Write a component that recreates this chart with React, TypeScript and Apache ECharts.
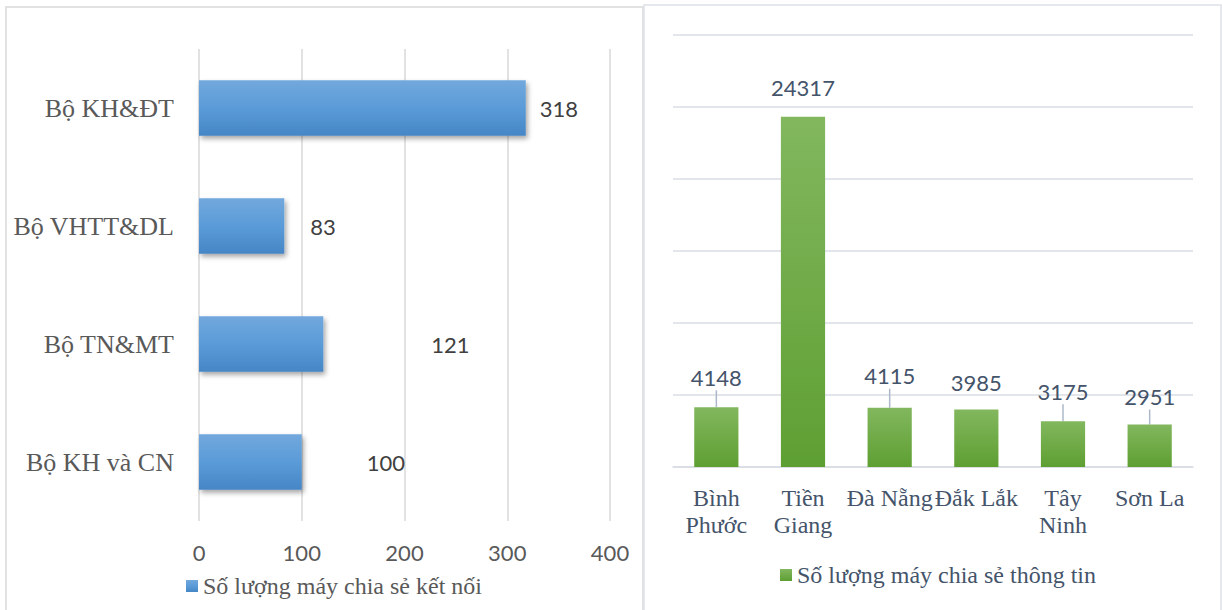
import React, { useEffect, useRef } from "react";
import * as echarts from "echarts";

const leftCategories = ["Bộ KH&ĐT", "Bộ VHTT&DL", "Bộ TN&MT", "Bộ KH và CN"];
const leftValues = [318, 83, 121, 100];
const leftSeriesName = "Số lượng máy chia sẻ kết nối";
const leftAxisMax = 400;
const leftAxisStep = 100;

const rightCategories = ["Bình\nPhước", "Tiền\nGiang", "Đà Nẵng", "Đắk Lắk", "Tây\nNinh", "Sơn La"];
const rightValues = [4148, 24317, 4115, 3985, 3175, 2951];
const rightSeriesName = "Số lượng máy chia sẻ thông tin";
const rightAxisMax = 30000;
const rightAxisStep = 5000;

// label layout tweaks (not data)
const leftLabelGap = [14, 26, 108, 65];
const rightLabelGap = [30, 29, 32, 27, 30, 28];
const rightLeader = [true, false, true, false, true, true];

const SERIF = "'Liberation Serif', 'Times New Roman', serif";
const SANS = "Lato, 'Open Sans', sans-serif";

export default function App() {
  const ref = useRef<HTMLDivElement>(null);
  useEffect(() => {
    if (!ref.current) return;
    const chart = echarts.init(ref.current, null, { renderer: "svg" });
    const blueGrad = new echarts.graphic.LinearGradient(0, 0, 0, 1, [
      { offset: 0, color: "#72a8dd" },
      { offset: 0.5, color: "#5a9bd8" },
      { offset: 1, color: "#4686c6" },
    ]);
    const greenGrad = new echarts.graphic.LinearGradient(0, 0, 0, 1, [
      { offset: 0, color: "#82b75e" },
      { offset: 1, color: "#5e9f32" },
    ]);
    chart.setOption({
      animation: false,
      graphic: [
        {
          type: "rect",
          shape: { x: 6, y: 7, width: 637, height: 620 },
          style: { fill: "none", stroke: "#d9d9d9", lineWidth: 1.5 },
          silent: true,
        },
        {
          type: "rect",
          shape: { x: 644, y: 5, width: 577, height: 620 },
          style: { fill: "none", stroke: "#dde1e6", lineWidth: 1.5 },
          silent: true,
        },
      ],
      legend: [
        {
          data: [leftSeriesName],
          left: 186,
          top: 574,
          padding: 0,
          itemWidth: 12,
          itemHeight: 12,
          icon: "rect",
          textStyle: { fontFamily: SERIF, fontSize: 24, color: "#595959" },
        },
        {
          data: [rightSeriesName],
          left: 780,
          top: 563,
          padding: 0,
          itemWidth: 12,
          itemHeight: 12,
          icon: "rect",
          textStyle: { fontFamily: SERIF, fontSize: 24, color: "#44546a" },
        },
      ],
      grid: [
        { left: 199, top: 49, width: 411, height: 472 },
        { left: 673, top: 35, width: 520, height: 432 },
      ],
      xAxis: [
        {
          type: "value",
          gridIndex: 0,
          min: 0,
          max: leftAxisMax,
          interval: leftAxisStep,
          axisLine: { show: false },
          axisTick: { show: false },
          splitLine: { lineStyle: { color: "#d9d9d9", width: 1.5 } },
          axisLabel: { fontFamily: SANS, fontSize: 22, color: "#595959", margin: 20 },
        },
        {
          type: "category",
          gridIndex: 1,
          data: rightCategories,
          axisLine: { lineStyle: { color: "#d9dde3", width: 1.5 } },
          axisTick: { show: false },
          axisLabel: {
            interval: 0,
            fontFamily: SERIF,
            fontSize: 24,
            lineHeight: 27,
            color: "#44546a",
            margin: 17,
          },
        },
      ],
      yAxis: [
        {
          type: "category",
          gridIndex: 0,
          inverse: true,
          data: leftCategories,
          axisLine: { show: false },
          axisTick: { show: false },
          axisLabel: { fontFamily: SERIF, fontSize: 26, color: "#595959", margin: 25 },
        },
        {
          type: "value",
          gridIndex: 1,
          min: 0,
          max: rightAxisMax,
          interval: rightAxisStep,
          axisLine: { show: false },
          axisTick: { show: false },
          axisLabel: { show: false },
          splitLine: { lineStyle: { color: "#d9dde3", width: 1.5 } },
        },
      ],
      series: [
        {
          name: leftSeriesName,
          type: "bar",
          xAxisIndex: 0,
          yAxisIndex: 0,
          barCategoryGap: "53%",
          itemStyle: {
            color: blueGrad,
            shadowColor: "rgba(0,0,0,0.35)",
            shadowBlur: 5,
            shadowOffsetX: 2,
            shadowOffsetY: 3,
          },
          label: {
            show: true,
            position: "right",
            fontFamily: SANS,
            fontSize: 22,
            color: "#404040",
          },
          data: leftValues.map((v, i) => ({
            value: v,
            label: { distance: leftLabelGap[i] },
          })),
        },
        {
          name: rightSeriesName,
          type: "bar",
          xAxisIndex: 1,
          yAxisIndex: 1,
          barCategoryGap: "49%",
          itemStyle: { color: greenGrad },
          label: {
            show: true,
            position: "top",
            distance: 0,
            fontFamily: SANS,
            fontSize: 22,
            lineHeight: 26,
            color: "#44546a",
          },
          labelLayout: (p: any) => ({ dy: -(rightLabelGap[p.dataIndex] - 13) }),
          labelLine: { show: true, lineStyle: { color: "#adb9ca", width: 1.5 } },
          data: rightValues.map((v, i) => ({
            value: v,
            labelLine: { show: rightLeader[i] },
          })),
        },
      ],
    });
    return () => chart.dispose();
  }, []);
  return (
    <div
      ref={ref}
      style={{ position: "fixed", left: 0, top: 0, width: 1222, height: 610, background: "#fff" }}
    />
  );
}
